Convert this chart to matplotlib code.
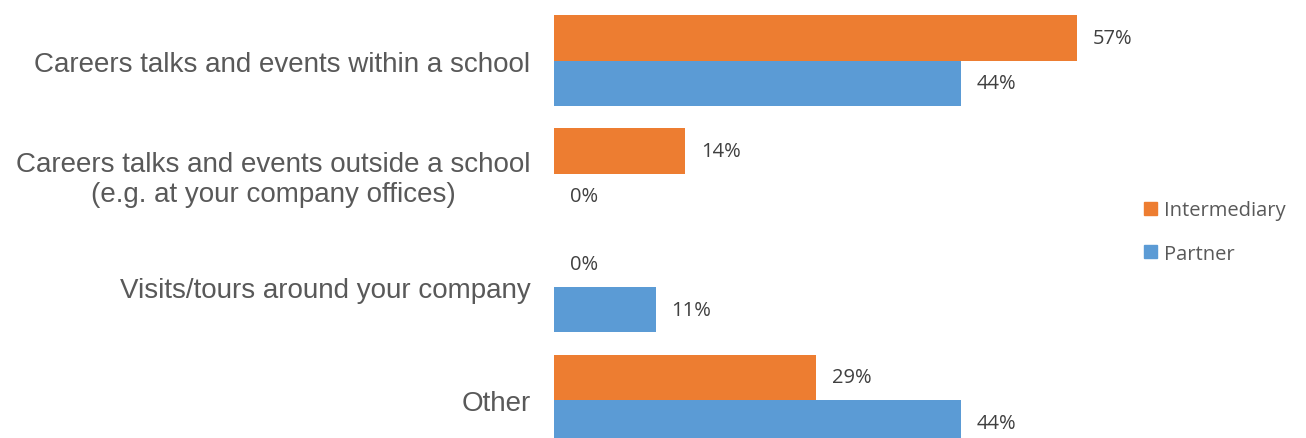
import matplotlib.pyplot as plt
from matplotlib.patches import Patch
from matplotlib.transforms import offset_copy

# survey results, share of respondents (%)
categories = [
    "Careers talks and events within a school",
    "Careers talks and events outside a school\n(e.g. at your company offices)",
    "Visits/tours around your company",
    "Other",
]
intermediary = [57.1, 14.3, 0.0, 28.6]
partner = [44.4, 0.0, 11.1, 44.4]

orange = '#ED7D31'
blue = '#5B9BD5'

fig = plt.figure(figsize=(13.06, 4.39), dpi=100)
W, H = 1306, 439
# axes placed in pixel terms: left edge at 554, one category = 113.3 px
ax = fig.add_axes([554 / W, 0, 577 / W, 434 / H])
ax.set_xlim(0, 63)
ax.set_ylim(3 + 38 / 113.3, -0.5)

y = range(len(categories))
h = 0.4
ax.barh([i - h / 2 for i in y], intermediary, height=h, color=orange, label='Intermediary')
ax.barh([i + h / 2 for i in y], partner, height=h, color=blue, label='Partner')

lab = offset_copy(ax.transData, fig=fig, x=16, y=0, units='dots')
for i in y:
    ax.text(intermediary[i], i - h / 2, f"{intermediary[i]:.0f}%", transform=lab,
            va='center', ha='left', fontsize=14.5, color='#404040', family='Open Sans')
    ax.text(partner[i], i + h / 2, f"{partner[i]:.0f}%", transform=lab,
            va='center', ha='left', fontsize=14.5, color='#404040', family='Open Sans')

ax.set_yticks(list(y))
ax.set_yticklabels(categories, fontsize=20, color='#595959', family='Liberation Sans',
                   multialignment='center', linespacing=1.2)
ax.tick_params(axis='y', length=0, pad=17)
ax.set_xticks([])
for s in ax.spines.values():
    s.set_visible(False)

handles = [Patch(color=orange), Patch(color=blue)]
fig.legend(handles, ['Intermediary', 'Partner'], loc='center left',
           bbox_to_anchor=(1126 / W, 1 - 233 / H), frameon=False,
           prop={'family': 'Open Sans', 'size': 14.5}, labelcolor='#595959',
           handlelength=0.65, handleheight=0.65, handletextpad=0.35, labelspacing=1.15)

plt.savefig('out.png', dpi=100)
